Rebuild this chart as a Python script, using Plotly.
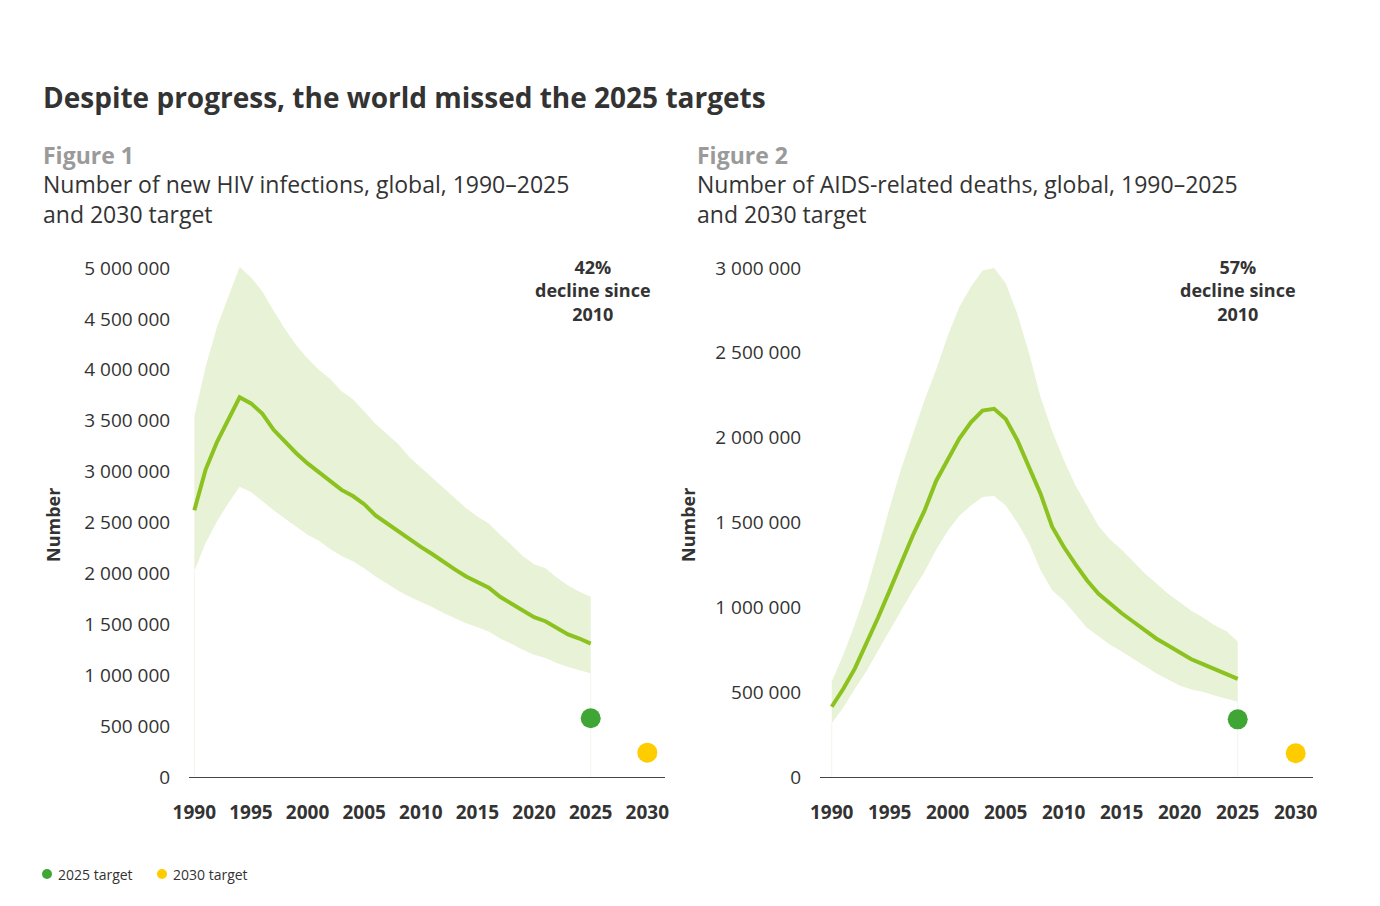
import plotly.graph_objects as go

# ---------------- data ----------------
years = list(range(1990, 2026))

# Figure 1: new HIV infections (estimate, upper and lower bound)
inf_est = [2620000, 3020000, 3290000, 3520000, 3730000, 3670000, 3570000, 3410000, 3290000, 3180000,
           3080000, 2990000, 2900000, 2820000, 2760000, 2680000, 2570000, 2490000, 2410000, 2330000,
           2260000, 2190000, 2110000, 2040000, 1970000, 1910000, 1860000, 1770000, 1700000, 1630000,
           1570000, 1530000, 1460000, 1400000, 1360000, 1310000]
inf_high = [3540000, 4030000, 4420000, 4720000, 5010000, 4910000, 4770000, 4580000, 4400000, 4240000,
            4110000, 4000000, 3910000, 3790000, 3710000, 3590000, 3470000, 3370000, 3270000, 3140000,
            3040000, 2940000, 2840000, 2740000, 2640000, 2560000, 2490000, 2380000, 2280000, 2170000,
            2090000, 2050000, 1960000, 1880000, 1820000, 1770000]
inf_low = [2020000, 2300000, 2510000, 2690000, 2850000, 2800000, 2710000, 2620000, 2540000, 2460000,
           2380000, 2320000, 2240000, 2170000, 2120000, 2050000, 1970000, 1900000, 1830000, 1770000,
           1720000, 1670000, 1610000, 1560000, 1510000, 1470000, 1430000, 1360000, 1310000, 1250000,
           1200000, 1170000, 1120000, 1080000, 1050000, 1020000]

# Figure 2: AIDS-related deaths
dth_est = [414000, 520000, 640000, 785000, 940000, 1100000, 1265000, 1425000, 1570000, 1745000,
           1870000, 1995000, 2090000, 2160000, 2170000, 2110000, 1985000, 1830000, 1670000, 1475000,
           1357000, 1255000, 1160000, 1080000, 1020000, 965000, 915000, 865000, 815000, 775000,
           735000, 694000, 665000, 635000, 608000, 578000]
dth_high = [562000, 720000, 900000, 1100000, 1340000, 1590000, 1820000, 2020000, 2220000, 2400000,
            2600000, 2770000, 2890000, 2985000, 3000000, 2910000, 2730000, 2500000, 2240000, 2040000,
            1870000, 1720000, 1600000, 1480000, 1400000, 1340000, 1270000, 1200000, 1140000, 1080000,
            1030000, 980000, 940000, 895000, 860000, 798000]
dth_low = [317000, 410000, 520000, 625000, 745000, 865000, 985000, 1100000, 1210000, 1340000,
           1450000, 1540000, 1600000, 1650000, 1656000, 1600000, 1500000, 1380000, 1220000, 1100000,
           1040000, 960000, 880000, 830000, 780000, 740000, 695000, 655000, 610000, 575000,
           540000, 515000, 503000, 480000, 460000, 444000]

target_years = [2025, 2030]
inf_targets = [577000, 239000]
dth_targets = [340000, 140000]

x_ticks = [1990, 1995, 2000, 2005, 2010, 2015, 2020, 2025, 2030]
inf_ticks = [0, 500000, 1000000, 1500000, 2000000, 2500000, 3000000, 3500000, 4000000, 4500000, 5000000]
dth_ticks = [0, 500000, 1000000, 1500000, 2000000, 2500000, 3000000]

# ---------------- styling ----------------
# the page body keeps its 8px margin, so the figure is sized to fit inside it
PAGE_W, PAGE_H, BODY = 1380, 906, 8
W, H = PAGE_W - 2 * BODY, PAGE_H - 2 * BODY
FONT = "Open Sans"
DARK = "#333333"
GREY = "#9a9a9a"
LINE_GREEN = "#8cc21f"
BAND = "#e8f2d6"
BAND_EDGE = "#f2f7ea"
GREEN = "#3fa535"
YELLOW = "#ffcc00"


def px(x):
    # page pixel -> paper fraction
    return (x - BODY) / W


def py(y):
    return (PAGE_H - BODY - y) / H


fig = go.Figure()


def add_panel(xa, ya, est, high, low, targets):
    # faint edges of the band down to the axis
    fig.add_trace(go.Scatter(x=[years[0], years[0], None, years[-1], years[-1]],
                             y=[0, low[0], None, 0, low[-1]], mode="lines",
                             line=dict(width=1, color=BAND_EDGE),
                             xaxis=xa, yaxis=ya, hoverinfo="skip"))
    fig.add_trace(go.Scatter(x=years, y=low, mode="lines", line=dict(width=0, color=BAND),
                             xaxis=xa, yaxis=ya, hoverinfo="skip"))
    fig.add_trace(go.Scatter(x=years, y=high, mode="lines", line=dict(width=0, color=BAND),
                             fill="tonexty", fillcolor=BAND,
                             xaxis=xa, yaxis=ya, hoverinfo="skip"))
    fig.add_trace(go.Scatter(x=years, y=est, mode="lines", line=dict(width=4, color=LINE_GREEN),
                             xaxis=xa, yaxis=ya))
    fig.add_trace(go.Scatter(x=target_years, y=targets, mode="markers",
                             marker=dict(size=20, color=[GREEN, YELLOW]),
                             xaxis=xa, yaxis=ya))


add_panel("x", "y", inf_est, inf_high, inf_low, inf_targets)
add_panel("x2", "y2", dth_est, dth_high, dth_low, dth_targets)

xaxis_common = dict(
    tickvals=x_ticks, showgrid=False, zeroline=False, automargin=False,
    showline=True, linecolor="#444444", linewidth=1.3,
    ticks="outside", ticklen=18, tickcolor="rgba(0,0,0,0)",
    tickfont=dict(family=FONT, size=19, color=DARK, weight="bold"),
)
yaxis_common = dict(
    showgrid=False, zeroline=False, showline=False, automargin=False,
    tickformat=",d", ticks="outside", ticklen=14, tickcolor="rgba(0,0,0,0)",
    tickfont=dict(family=FONT, size=19, color=DARK),
)

fig.update_layout(
    width=W, height=H,
    margin=dict(l=0, r=0, t=0, b=0, pad=0, autoexpand=False),
    paper_bgcolor="white", plot_bgcolor="white",
    showlegend=False,
    separators=". ",
    font=dict(family=FONT, color=DARK),
    xaxis=dict(domain=[px(189), px(665)], range=[1989.53, 2031.56], anchor="y", **xaxis_common),
    yaxis=dict(domain=[py(777), py(258)], range=[0, 5098000], tickvals=inf_ticks, anchor="x", **yaxis_common),
    xaxis2=dict(domain=[px(820), px(1313)], range=[1988.99, 2031.49], anchor="y2", **xaxis_common),
    yaxis2=dict(domain=[py(777), py(258)], range=[0, 3059000], tickvals=dth_ticks, anchor="x2", **yaxis_common),
)

ann = []


def text(x, y, s, size, color=DARK, bold=False, xanchor="left", angle=0, align="left"):
    ann.append(dict(x=px(x), y=py(y), xref="paper", yref="paper", text=s, showarrow=False,
                    xanchor=xanchor, yanchor="middle", textangle=angle, align=align,
                    font=dict(family=FONT, size=size, color=color, weight="bold" if bold else "normal")))


text(41, 97, "Despite progress, the world missed the 2025 targets", 28, bold=True)
text(41, 155, "Figure 1", 23, color=GREY, bold=True)
text(41, 199, "Number of new HIV infections, global, 1990–2025<br>and 2030 target", 23)
text(695, 155, "Figure 2", 23, color=GREY, bold=True)
text(695, 199, "Number of AIDS-related deaths, global, 1990–2025<br>and 2030 target", 23)
text(53, 525, "Number", 18, bold=True, xanchor="center", angle=-90)
text(688, 525, "Number", 18, bold=True, xanchor="center", angle=-90)
text(593, 290, "42%<br>decline since<br>2010", 18, bold=True, xanchor="center", align="center")
text(1238, 290, "57%<br>decline since<br>2010", 18, bold=True, xanchor="center", align="center")
text(56, 874, "2025 target", 14)
text(171, 874, "2030 target", 14)
fig.update_layout(annotations=ann)

# legend dots
for cx, col in [(47, GREEN), (162, YELLOW)]:
    fig.add_shape(type="circle", xref="paper", yref="paper",
                  x0=px(cx - 5), x1=px(cx + 5), y0=py(879), y1=py(869),
                  fillcolor=col, line=dict(width=0))

fig.write_html("out.html")
